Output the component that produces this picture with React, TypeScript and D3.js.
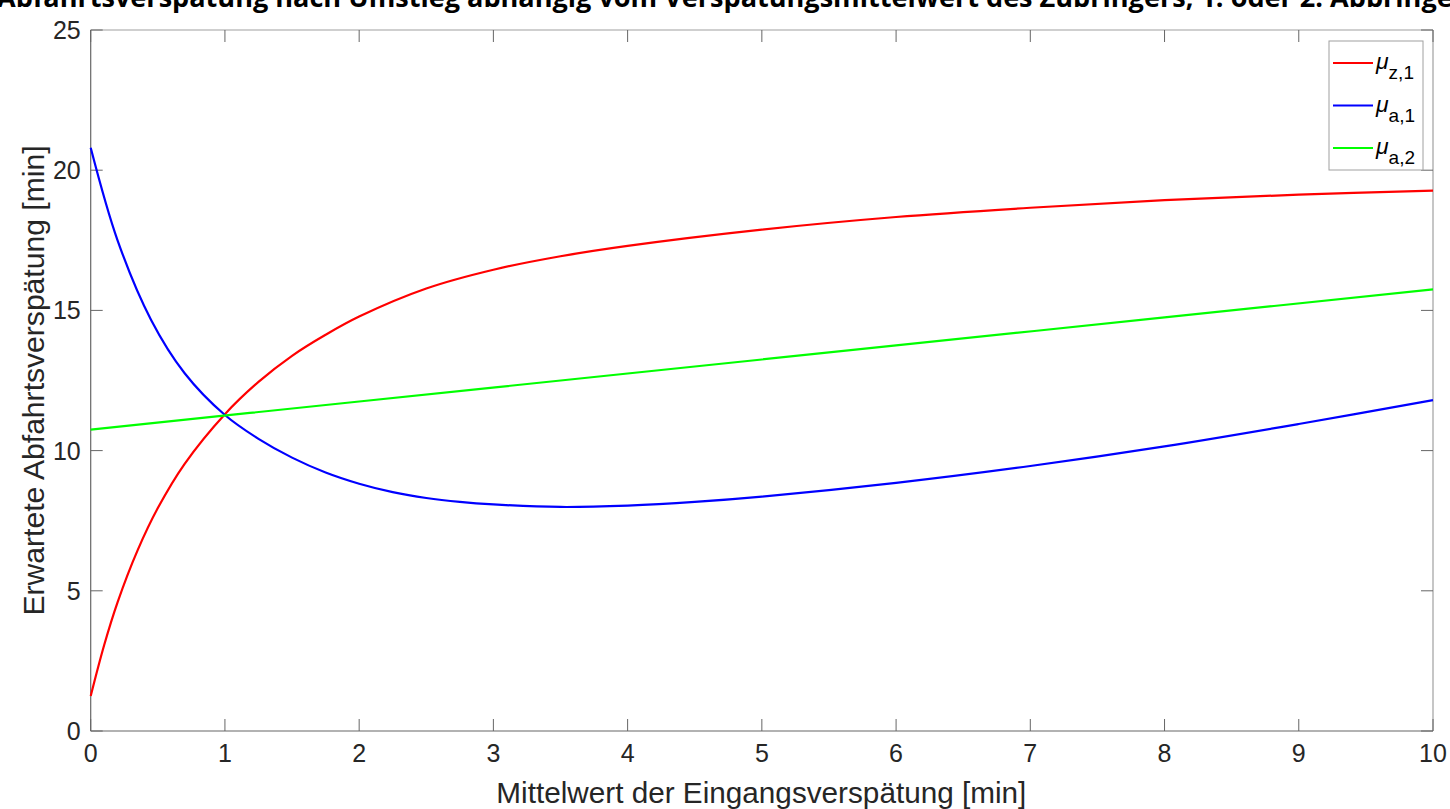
import React from "react";
import * as d3 from "d3";

const WIDTH = 1450;
const HEIGHT = 809;
const MARGIN = { top: 30, right: 17, bottom: 78, left: 90.7 };

const TITLE =
  "Abfahrtsverspätung nach Umstieg abhängig vom Verspätungsmittelwert des Zubringers, 1. oder 2. Abbringer";
const X_LABEL = "Mittelwert der Eingangsverspätung [min]";
const Y_LABEL = "Erwartete Abfahrtsverspätung [min]";

const xTicks = [0, 1, 2, 3, 4, 5, 6, 7, 8, 9, 10];
const yTicks = [0, 5, 10, 15, 20, 25];

// mu_z,1
const zx1 = [0, 0.1, 0.2, 0.35, 0.5, 0.7, 1.0, 1.25, 1.5, 1.75, 2, 2.5, 3, 3.5, 4, 5, 6, 7, 8, 9, 10];
const zy1 = [1.25, 3.06, 4.59, 6.45, 7.95, 9.53, 11.3, 12.45, 13.38, 14.13, 14.78, 15.78, 16.45, 16.93, 17.3, 17.88, 18.33, 18.66, 18.93, 19.13, 19.27];

// mu_a,1
const ax1 = [0, 0.2, 0.45, 0.7, 1.0, 1.25, 1.5, 1.75, 2, 2.25, 2.5, 2.75, 3, 3.5, 4, 4.5, 5, 6, 7, 8, 9, 10];
const ay1 = [20.8, 17.5, 14.66, 12.76, 11.27, 10.42, 9.75, 9.22, 8.82, 8.52, 8.31, 8.17, 8.08, 7.99, 8.04, 8.17, 8.36, 8.85, 9.45, 10.15, 10.95, 11.8];

// mu_a,2
const ax2 = [0, 2, 4, 6, 8, 10];
const ay2 = [10.75, 11.75, 12.75, 13.75, 14.75, 15.75];

const seriesNames = [
  { sym: "z,1", color: "#ff0000" },
  { sym: "a,1", color: "#0000ff" },
  { sym: "a,2", color: "#00ff00" },
];

const App = () => {
  const boundsWidth = WIDTH - MARGIN.left - MARGIN.right;
  const boundsHeight = HEIGHT - MARGIN.top - MARGIN.bottom;

  const xScale = d3.scaleLinear().domain([0, 10]).range([0, boundsWidth]);
  const yScale = d3.scaleLinear().domain([0, 25]).range([boundsHeight, 0]);

  const line = d3
    .line<[number, number]>()
    .x((d) => xScale(d[0]))
    .y((d) => yScale(d[1]))
    .curve(d3.curveCatmullRom.alpha(0.5));

  const paths = [
    { pts: zx1.map((x, i) => [x, zy1[i]] as [number, number]), color: seriesNames[0].color },
    { pts: ax1.map((x, i) => [x, ay1[i]] as [number, number]), color: seriesNames[1].color },
    { pts: ax2.map((x, i) => [x, ay2[i]] as [number, number]), color: seriesNames[2].color },
  ];

  const font = "'Liberation Sans', Arial, sans-serif";
  const tickLen = 12;
  const axisColor = "#666666";
  const textColor = "#262626";

  return (
    <svg
      width={WIDTH}
      height={HEIGHT}
      style={{ position: "absolute", left: 0, top: 0, background: "#fff" }}
    >
      <text
        x={-3}
        y={7}
        textLength={1468}
        lengthAdjust="spacingAndGlyphs"
        fontFamily="'Open Sans', 'Noto Sans', sans-serif"
        fontWeight="bold"
        fontSize={27}
        fill="#000"
      >
        {TITLE}
      </text>

      <g transform={`translate(${MARGIN.left},${MARGIN.top})`}>
        {/* box */}
        <line x1={0} x2={boundsWidth} y1={0} y2={0} stroke="#a0a0a0" strokeWidth={1.2} />
        <line x1={boundsWidth} x2={boundsWidth} y1={0} y2={boundsHeight} stroke="#a0a0a0" strokeWidth={1.2} />
        <line x1={0} x2={boundsWidth} y1={boundsHeight} y2={boundsHeight} stroke={axisColor} strokeWidth={1.2} />
        <line x1={0} x2={0} y1={0} y2={boundsHeight} stroke={axisColor} strokeWidth={1.2} />

        {xTicks.map((t) => (
          <g key={"x" + t}>
            <line x1={xScale(t)} x2={xScale(t)} y1={boundsHeight} y2={boundsHeight - tickLen} stroke={axisColor} />
            <line x1={xScale(t)} x2={xScale(t)} y1={0} y2={tickLen} stroke={axisColor} />
            <text
              x={xScale(t)}
              y={boundsHeight + 31}
              textAnchor="middle"
              fontFamily={font}
              fontSize={25}
              fill={textColor}
            >
              {t}
            </text>
          </g>
        ))}

        {yTicks.map((t) => (
          <g key={"y" + t}>
            <line x1={0} x2={tickLen} y1={yScale(t)} y2={yScale(t)} stroke={axisColor} />
            <line x1={boundsWidth} x2={boundsWidth - tickLen} y1={yScale(t)} y2={yScale(t)} stroke={axisColor} />
            <text
              x={-10}
              y={yScale(t) + 9}
              textAnchor="end"
              fontFamily={font}
              fontSize={25}
              fill={textColor}
            >
              {t}
            </text>
          </g>
        ))}

        {paths.map((p, i) => (
          <path key={i} d={line(p.pts) || ""} fill="none" stroke={p.color} strokeWidth={2.2} />
        ))}
      </g>

      <text
        x={MARGIN.left + boundsWidth / 2 - 0.5}
        y={803}
        textAnchor="middle"
        textLength={530}
        lengthAdjust="spacingAndGlyphs"
        fontFamily={font}
        fontSize={29}
        fill={textColor}
      >
        {X_LABEL}
      </text>
      <text
        transform={`translate(44,${MARGIN.top + boundsHeight / 2}) rotate(-90)`}
        textAnchor="middle"
        textLength={470}
        lengthAdjust="spacingAndGlyphs"
        fontFamily={font}
        fontSize={29}
        fill={textColor}
      >
        {Y_LABEL}
      </text>

      {/* legend */}
      <g>
        <rect x={1329} y={41} width={94} height={129} fill="#fff" stroke="#a0a0a0" strokeWidth={1} />
        {seriesNames.map((s, i) => {
          const yy = 63 + i * 42.5;
          return (
            <g key={s.sym}>
              <line x1={1333} x2={1373} y1={yy} y2={yy} stroke={s.color} strokeWidth={2.2} />
              <text x={1376} y={yy + 6} fontFamily={font} fontSize={23} fill="#000">
                <tspan fontStyle="italic">μ</tspan>
                <tspan dy={10} fontSize={19}>
                  {s.sym}
                </tspan>
              </text>
            </g>
          );
        })}
      </g>
    </svg>
  );
};

export default App;
